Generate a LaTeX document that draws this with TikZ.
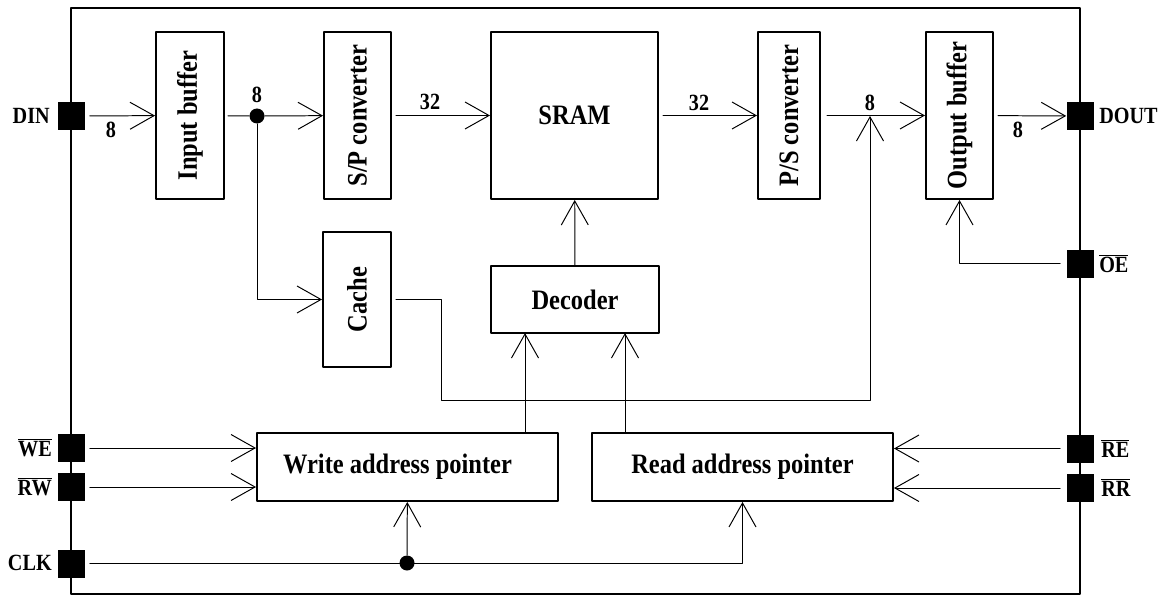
\documentclass[tikz,border=0pt]{standalone}
\usepackage{fontspec}
\usepackage{graphicx}
\usetikzlibrary{arrows.meta}

\newfontfamily\diagfont{Liberation Serif}[FakeStretch=0.87]
\newcommand{\boxfont}{\diagfont\bfseries\fontsize{20}{22}\selectfont}
\newcommand{\padfont}{\diagfont\bfseries\fontsize{16.5}{18}\selectfont}
\newcommand{\negsig}[1]{$\overline{\hbox{#1}}$}
\newcommand{\pxu}{0.025cm}

\begin{document}
\begin{tikzpicture}[x=\pxu, y=-\pxu, line cap=round, line join=round,
  block/.style={draw, line width=1.4pt, inner sep=0pt, font=\boxfont},
  pad/.style={fill=black, minimum width=27*\pxu, minimum height=28*\pxu, inner sep=0pt},
  padlabel/.style={font=\padfont, inner sep=0pt},
  buswidth/.style={font=\padfont, inner sep=0pt},
  joint/.style={circle, fill=black, minimum size=15*\pxu, inner sep=0pt},
  wire/.style={line width=0.7pt},
  sig/.style={wire, -{Straight Barb[length=0.6cm, width=0.675cm]}}]

% Page size and chip outline
\useasboundingbox (0,0) rectangle (1171,597);
\fill[white] (0,0) rectangle (1171,597);
\draw[line width=1.4pt] (71,8) rectangle (1080,594);

% Main blocks
\node[block, minimum width=68*\pxu, minimum height=167*\pxu] (inbuf) at (190,115.5) {\rotatebox{90}{Input buffer}};
\node[block, minimum width=67*\pxu, minimum height=167*\pxu] (sp) at (357.5,115.5) {\rotatebox{90}{S/P converter}};
\node[block, minimum width=167*\pxu, minimum height=167*\pxu] (sram) at (574.5,115.5) {SRAM};
\node[block, minimum width=62*\pxu, minimum height=167*\pxu] (ps) at (789,115.5) {\rotatebox{90}{P/S converter}};
\node[block, minimum width=67*\pxu, minimum height=167*\pxu] (outbuf) at (959.5,115.5) {\rotatebox{90}{Output buffer}};
\node[block, minimum width=68*\pxu, minimum height=135*\pxu] (cache) at (357,299.5) {\rotatebox{90}{Cache}};
\node[block, minimum width=168*\pxu, minimum height=67*\pxu] (dec) at (575,299.5) {Decoder};
\node[block, minimum width=301*\pxu, minimum height=68*\pxu] (wap) at (407.5,467) {Write address pointer\rule{0.5cm}{0pt}};
\node[block, minimum width=301*\pxu, minimum height=68*\pxu] (rap) at (742.5,467) {Read address pointer};

% Pads on the outline
\node[pad] (din) at (71,116) {};
\node[pad] (we) at (71,448) {};
\node[pad] (rw) at (71,487) {};
\node[pad] (clk) at (71,563.5) {};
\node[pad] (dout) at (1080,116) {};
\node[pad] (oe) at (1080,263.5) {};
\node[pad] (re) at (1080,448.5) {};
\node[pad] (rr) at (1080,488) {};

% Pad names
\node[padlabel, anchor=east] (dinlbl) at (50,116) {DIN};
\node[padlabel, anchor=east] (welbl) at (52,448) {\negsig{WE}};
\node[padlabel, anchor=east] (rwlbl) at (52,487) {\negsig{RW}};
\node[padlabel, anchor=east] (clklbl) at (52,563) {CLK};
\node[padlabel, anchor=west] (doutlbl) at (1099,116) {DOUT};
\node[padlabel, anchor=west] (oelbl) at (1099,264) {\negsig{OE}};
\node[padlabel, anchor=west] (relbl) at (1101,448) {\negsig{RE}};
\node[padlabel, anchor=west] (rrlbl) at (1101,487) {\negsig{RR}};

% Junction dots and bend points
\node[joint] (split) at (257,116) {};
\node[joint] (clksplit) at (407,563) {};
\coordinate (cturn) at (441,400);
\coordinate (merge) at (870,116);
\coordinate (wtap) at (525,333);
\coordinate (rtap) at (625,333);

% Data path
\draw[sig, shorten <=0.125cm] (din) -- (inbuf);
\draw[wire, shorten <=0.075cm] (inbuf) -- (split);
\draw[sig] (split) -- (sp);
\draw[sig, shorten <=0.1cm] (sp) -- (sram);
\draw[sig, shorten <=0.1cm] (sram) -- (ps);
\draw[sig, shorten <=0.15cm] (ps) -- (outbuf);
\draw[sig, shorten <=0.1cm] (outbuf) -- (dout);
\draw[sig] (split) |- (cache);
\draw[sig, shorten <=0.1cm] (cache) -| (cturn) -| (merge);

% Address and control
\draw[sig] (dec) -- (sram);
\draw[sig] (wap.north -| wtap) -- (wtap);
\draw[sig] (rap.north -| rtap) -- (rtap);
\draw[sig, shorten <=0.125cm] (we) -- (we -| wap.west);
\draw[sig, shorten <=0.125cm] (rw) -- (rw -| wap.west);
\draw[sig, shorten <=0.15cm] (re) -- (re -| rap.east);
\draw[sig, shorten <=0.15cm] (rr) -- (rr -| rap.east);
\draw[sig, shorten <=0.15cm] (oe) -| (outbuf);
\draw[sig, shorten <=0.125cm] (clk) -| (rap);
\draw[sig] (clksplit) -- (wap);

% Bus widths
\node[buswidth] (w1) at (111,130) {8};
\node[buswidth] (w2) at (257,95) {8};
\node[buswidth] (w3) at (430,102) {32};
\node[buswidth] (w4) at (699,103) {32};
\node[buswidth] (w5) at (870,103) {8};
\node[buswidth] (w6) at (1018,130) {8};

\end{tikzpicture}
\end{document}
